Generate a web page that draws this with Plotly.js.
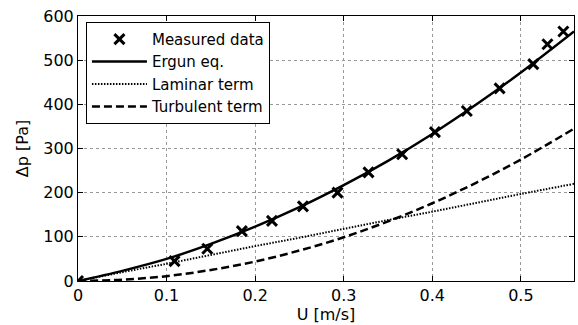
<!DOCTYPE html>
<html>
<head>
<meta charset="utf-8">
<script src="https://cdn.plot.ly/plotly-3.0.1.min.js"></script>
<style>html,body{margin:0;padding:0;background:#fff;}#chart{width:578px;height:325px;}</style>
</head>
<body>
<div id="chart"></div>
<script>
// Measured data
var measU = [0, 0.109, 0.146, 0.185, 0.219, 0.254, 0.293, 0.328, 0.366, 0.403, 0.439, 0.476, 0.514, 0.530, 0.548];
var measP = [0, 45, 73, 113, 136, 169, 200, 246, 287, 337, 385, 436, 491, 536, 565];

// Model curves
var curveU     = [0, 0.05, 0.1, 0.15, 0.2, 0.25, 0.3, 0.35, 0.4, 0.45, 0.5, 0.56];
var ergunP     = [0, 23, 50, 84, 123, 167, 217, 272, 333, 400, 472, 565];
var laminarP   = [0, 20, 39, 59, 79, 98, 118, 138, 157, 177, 197, 220];
var turbulentP = [0, 3, 11, 25, 44, 69, 99, 135, 176, 223, 275, 345];

var xTicks = [0, 0.1, 0.2, 0.3, 0.4, 0.5];
var xTickText = ['0', '0.1', '0.2', '0.3', '0.4', '0.5'];
var yTicks = [0, 100, 200, 300, 400, 500, 600];

var FONT = 'DejaVu Sans, Liberation Sans, Arial, sans-serif';

var traces = [
  {x: measU, y: measP, mode: 'markers', name: 'Measured data',
   marker: {symbol: 'x-thin-open', size: 10, color: '#000', line: {color: '#000', width: 3}}},
  {x: curveU, y: ergunP, mode: 'lines', name: 'Ergun eq.',
   line: {color: '#000', width: 2.5, shape: 'spline'}},
  {x: curveU, y: laminarP, mode: 'lines', name: 'Laminar term',
   line: {color: '#000', width: 2, dash: '1.5px,1.5px', shape: 'spline'}},
  {x: curveU, y: turbulentP, mode: 'lines', name: 'Turbulent term',
   line: {color: '#000', width: 2.5, dash: '8px,4px', shape: 'spline'}}
];

var axisCommon = {
  showline: true, linecolor: '#000', linewidth: 1, mirror: 'ticks',
  ticks: 'inside', ticklen: 5, tickcolor: '#000',
  showgrid: true, gridcolor: '#999', griddash: 'dot', gridwidth: 1,
  zeroline: false, tickfont: {family: FONT, size: 16, color: '#000'}
};

var layout = {
  width: 578, height: 325,
  margin: {l: 78, r: 4, t: 16, b: 44},
  paper_bgcolor: '#fff', plot_bgcolor: '#fff',
  showlegend: true,
  legend: {x: 0.016, y: 0.978, xanchor: 'left', yanchor: 'top',
           bgcolor: '#fff', bordercolor: '#000', borderwidth: 1,
           font: {family: FONT, size: 15, color: '#000'},
           tracegroupgap: 0, itemwidth: 55},
  xaxis: Object.assign({}, axisCommon, {
    range: [0, 0.56], tickvals: xTicks, ticktext: xTickText,
    title: {text: 'U [m/s]', font: {family: FONT, size: 16, color: '#000'}, standoff: 3}
  }),
  yaxis: Object.assign({}, axisCommon, {
    range: [0, 600], tickvals: yTicks,
    title: {text: 'Δp [Pa]', font: {family: FONT, size: 16, color: '#000'}, standoff: 10}
  })
};

Plotly.newPlot('chart', traces, layout, {displayModeBar: false});
</script>
</body>
</html>
